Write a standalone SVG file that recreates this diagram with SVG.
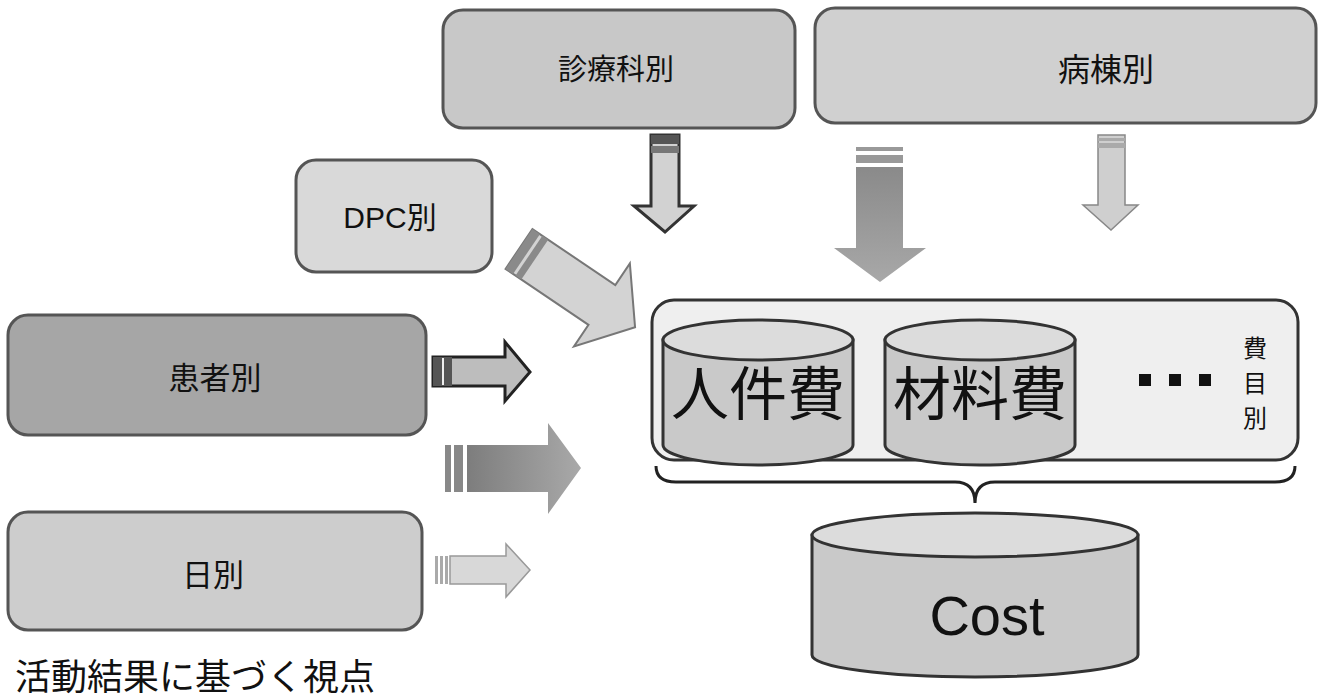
<svg xmlns="http://www.w3.org/2000/svg" width="1324" height="699" viewBox="0 0 1324 699">
<style>
.box{stroke:#555;stroke-width:3}
.lbl{font-family:"Noto Sans CJK JP","Liberation Sans",sans-serif;font-size:30px;fill:#111;text-anchor:middle;dominant-baseline:central}
.cyl{fill:#c9c9c9;stroke:#333;stroke-width:3}
.cyltop{fill:#dcdcdc;stroke:#333;stroke-width:3}
.big{font-family:"Noto Sans CJK JP",sans-serif;font-size:58px;fill:#111;text-anchor:middle;dominant-baseline:central}
</style>
<defs>
<linearGradient id="gMid" x1="0" y1="0" x2="1" y2="0"><stop offset="0" stop-color="#7d7d7d"/><stop offset="1" stop-color="#a9a9a9"/></linearGradient>
<linearGradient id="gCen" x1="0" y1="0" x2="0" y2="1"><stop offset="0" stop-color="#8a8a8a"/><stop offset="1" stop-color="#a8a8a8"/></linearGradient>
</defs>
<rect width="1324" height="699" fill="#fff"/>

<g id="node-shinryoka">
<rect class="box" x="443" y="10" width="352" height="118" rx="20" fill="#c8c8c8"/>
<text class="lbl" x="616" y="67" style="font-size:29px">診療科別</text>
</g>
<g id="node-byoto">
<rect class="box" x="815" y="8" width="501" height="115" rx="20" fill="#d0d0d0"/>
<text class="lbl" x="1106" y="67" style="font-size:32px">病棟別</text>
</g>
<g id="node-dpc">
<rect class="box" x="296" y="160" width="196" height="112" rx="20" fill="#d9d9d9" stroke="#666"/>
<text class="lbl" x="390" y="217" style="font-family:'Liberation Sans','Noto Sans CJK JP',sans-serif">DPC別</text>
</g>
<g id="node-kanja">
<rect class="box" x="8" y="315" width="418" height="120" rx="20" fill="#a6a6a6" stroke="#333"/>
<text class="lbl" x="215" y="375" style="font-size:31px">患者別</text>
</g>
<g id="node-hibetsu">
<rect class="box" x="8" y="512" width="414" height="118" rx="20" fill="#cdcdcd" stroke="#777"/>
<text class="lbl" x="213" y="572" style="font-size:31px">日別</text>
</g>

<g id="node-himoku">
<rect x="652" y="300" width="646" height="160" rx="22" fill="#efefef" stroke="#333" stroke-width="3"/>
<g id="cyl-jinkenhi">
<path class="cyl" d="M663,340 L663,445 A95,20 0 0 0 853,445 L853,340 Z"/>
<ellipse class="cyltop" cx="758" cy="340" rx="95" ry="20"/>
<text class="big" x="758" y="390">人件費</text>
</g>
<g id="cyl-zairyohi">
<path class="cyl" d="M885,340 L885,445 A95,20 0 0 0 1075,445 L1075,340 Z"/>
<ellipse class="cyltop" cx="980" cy="340" rx="95" ry="20"/>
<text class="big" x="980" y="390">材料費</text>
</g>
<rect x="1139" y="374" width="12" height="12" fill="#111"/>
<rect x="1169" y="374" width="12" height="12" fill="#111"/>
<rect x="1199" y="374" width="12" height="12" fill="#111"/>
<text class="lbl" style="font-size:24px" x="1255" y="346">費</text>
<text class="lbl" style="font-size:24px" x="1255" y="381">目</text>
<text class="lbl" style="font-size:24px" x="1255" y="416">別</text>
</g>

<g id="node-cost">
<path class="cyl" d="M812,535 L812,655 A163,22 0 0 0 1138,655 L1138,535 Z" fill="#c6c6c6"/>
<ellipse class="cyltop" cx="975" cy="535" rx="163" ry="22"/>
<text x="987" y="635" font-family="Liberation Sans,Arial,sans-serif" font-size="56" fill="#111" text-anchor="middle">Cost</text>
</g>

<g id="connectors">
<path d="M656,466 Q656,482 676,482 L955,482 Q975,482 975,503 Q975,482 995,482 L1275,482 Q1295,482 1295,466" fill="none" stroke="#222" stroke-width="3"/>

<g id="arrow-shinryoka">
<path d="M651,135 L679,135 L679,206 L694,206 L665,232 L634,206 L651,206 Z" fill="#d2d2d2" stroke="#333" stroke-width="3" stroke-linejoin="miter"/>
<rect x="651" y="135" width="28" height="9" fill="#555"/>
<rect x="651" y="146" width="28" height="7" fill="#777"/>
</g>
<g id="arrow-center">
<rect x="856" y="147" width="47" height="4" fill="#999"/>
<rect x="856" y="155" width="47" height="8" fill="#999"/>
<path d="M856,167 L903,167 L903,248 L926,248 L880,282 L834,248 L856,248 Z" fill="url(#gCen)"/>
</g>
<g id="arrow-byoto">
<path d="M1098,135 L1125,135 L1125,205 L1138,205 L1111,230 L1083,205 L1098,205 Z" fill="#cfcfcf" stroke="#888" stroke-width="1.5"/>
<rect x="1098" y="138" width="27" height="3" fill="#aaa"/>
<rect x="1098" y="143" width="27" height="5" fill="#aaa"/>
</g>
<g id="arrow-dpc" transform="translate(519,249) rotate(34)">
<path d="M0,-24 L100,-24 L100,-50 L140,0 L100,50 L100,24 L0,24 Z" fill="#d3d3d3" stroke="#777" stroke-width="2"/>
<rect x="0" y="-24" width="9" height="48" fill="#8a8a8a"/>
<rect x="12" y="-24" width="7" height="48" fill="#8a8a8a"/>
</g>
<g id="arrow-kanja">
<path d="M433,357 L505,357 L505,342 L530,372 L505,401 L505,386 L433,386 Z" fill="#bdbdbd" stroke="#222" stroke-width="3"/>
<rect x="433" y="357" width="19" height="29" fill="#555"/>
<rect x="442" y="358" width="2" height="27" fill="#eee"/>
</g>
<g id="arrow-mid">
<rect x="445" y="445" width="6" height="47" fill="#888"/>
<rect x="454" y="445" width="9" height="47" fill="#888"/>
<path d="M467,445 L548,445 L548,423 L581,468 L548,514 L548,492 L467,492 Z" fill="url(#gMid)"/>
</g>
<g id="arrow-hibetsu">
<rect x="435" y="556" width="3" height="28" fill="#aaa"/>
<rect x="440" y="556" width="3" height="28" fill="#aaa"/>
<rect x="445" y="556" width="3" height="28" fill="#aaa"/>
<path d="M450,556 L506,556 L506,544 L530,570 L506,597 L506,584 L450,584 Z" fill="#d8d8d8" stroke="#999" stroke-width="1.5"/>
</g>
</g>

<text x="15" y="674" font-family="Noto Sans CJK JP,sans-serif" font-size="36" fill="#111" dominant-baseline="central">活動結果に基づく視点</text>
</svg>
